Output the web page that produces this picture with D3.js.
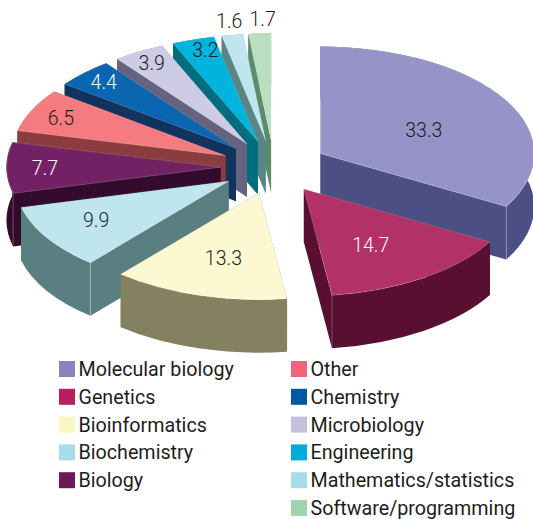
<!DOCTYPE html>
<html>
<head>
<meta charset="utf-8">
<script src="https://cdn.jsdelivr.net/npm/d3@7"></script>
<style>
	html, body { margin: 0; padding: 0; background: #fff; }
	svg { display: block; }
	text { font-family: Roboto, sans-serif; font-weight: 300; fill: #1d1d1b; }
</style>
</head>
<body>
<svg id="chart" width="533" height="519"></svg>
<script>
// share of respondents per field, %
const categories = ['Molecular biology', 'Genetics', 'Bioinformatics', 'Biochemistry', 'Biology', 'Other',
	'Chemistry', 'Microbiology', 'Engineering', 'Mathematics/statistics', 'Software/programming'];
const values = [33.3, 14.7, 13.3, 9.9, 7.7, 6.5, 4.4, 3.9, 3.2, 1.6, 1.7];

const topColors = ['#9593c7', '#b23166', '#fcf9d2', '#bfe6ef', '#732165', '#f57b81', '#0a66b0', '#cdcce4', '#00b4de', '#bfe6ef', '#b9dfbe'];
const wallColors = ['#4b4f84', '#590f30', '#838160', '#597f80', '#330b2d', '#8b3c3e', '#13335f', '#66637f', '#006e7e', '#5a8586', '#5c8a6c'];
const swatchColors = ['#8a83bf', '#bb1e5e', '#f8f6c4', '#a7dcea', '#6e1a56', '#f26479', '#0057a4', '#c6c0df', '#00acd9', '#a7dcea', '#a1d3ae'];
const labelColors = ['#1d1d1b', '#fff', '#1d1d1b', '#1d1d1b', '#fff', '#1d1d1b', '#fff', '#1d1d1b', '#1d1d1b', '#1d1d1b', '#1d1d1b'];

// how far out along the slice each value label sits (fraction of radius)
const labelRadiusX = [0.56, 0.56, 0.59, 0.73, 0.82, 0.85, 0.87, 0.88, 0.81, 1.09, 0.75];
const labelRadiusY = [0.43, 0.63, 0.64, 0.68, 0.83, 0.82, 0.88, 0.88, 0.9, 1.135, 1.14];

// pie geometry, the tilt is faked by squashing y
const cx = 274, cy = 167, rx = 214, squash = 0.5, depth = 53, explode = 0.25;
const ry = rx * squash;

const svg = d3.select('#chart');

const slices = d3.pie().sort(null).value(d => d)(values).map((d, i) => {
	let mid = (d.startAngle + d.endAngle) / 2;
	return {
		i: i,
		a0: d.startAngle,
		a1: d.endAngle,
		ax: cx + explode * rx * Math.sin(mid),
		ay: cy - explode * ry * Math.cos(mid),
		mid: mid
	};
});

const rim = (s, a) => [s.ax + rx * Math.sin(a), s.ay - ry * Math.cos(a)];
const arcTop = d3.arc().innerRadius(0).outerRadius(rx);

// sides of the slice: both cut faces and the curved outside
function wallPaths(s) {
	let p0 = rim(s, s.a0), p1 = rim(s, s.a1);
	return [
		`M${p0} A${rx},${ry} 0 0 1 ${p1} L${p1[0]},${p1[1] + depth} A${rx},${ry} 0 0 0 ${p0[0]},${p0[1] + depth} Z`,
		`M${s.ax},${s.ay} L${p0} L${p0[0]},${p0[1] + depth} L${s.ax},${s.ay + depth} Z`,
		`M${s.ax},${s.ay} L${p1} L${p1[0]},${p1[1] + depth} L${s.ax},${s.ay + depth} Z`
	];
}

// back slices first so the front ones cover them
const order = slices.slice().sort((a, b) => d3.ascending(a.ay, b.ay));

const sliceG = svg.append('g').selectAll('g')
	.data(order)
	.join('g');

sliceG.selectAll('path.wall')
	.data(d => wallPaths(d).map(p => ({path: p, i: d.i})))
	.join('path')
	.attr('class', 'wall')
	.attr('d', d => d.path)
	.attr('fill', d => wallColors[d.i]);

// light edge where two side faces meet
sliceG.each(function(d) {
	let corners = [];
	if (d.a0 > Math.PI && d.a0 < 1.5 * Math.PI) corners.push(d.a0);
	if (d.a1 > Math.PI / 2 && d.a1 < Math.PI) corners.push(d.a1);
	corners.forEach(a => {
		let p = rim(d, a);
		d3.select(this).append('line')
			.attr('x1', p[0]).attr('x2', p[0])
			.attr('y1', p[1]).attr('y2', p[1] + depth)
			.attr('stroke', '#fff')
			.attr('stroke-opacity', 0.35)
			.attr('stroke-width', 0.7);
	});
});

sliceG.append('path')
	.attr('class', 'top')
	.attr('transform', d => `translate(${d.ax},${d.ay}) scale(1,${squash})`)
	.attr('d', d => arcTop({startAngle: d.a0, endAngle: d.a1}))
	.attr('fill', d => topColors[d.i])
	.attr('stroke', '#fff')
	.attr('stroke-opacity', 0.3)
	.attr('stroke-width', 0.6)
	.attr('vector-effect', 'non-scaling-stroke');

// value labels on top of everything
svg.append('g').selectAll('text')
	.data(slices)
	.join('text')
	.attr('x', d => d.ax + labelRadiusX[d.i] * rx * Math.sin(d.mid))
	.attr('y', d => d.ay - labelRadiusY[d.i] * ry * Math.cos(d.mid))
	.attr('dy', '.36em')
	.attr('text-anchor', 'middle')
	.attr('font-size', 19.5)
	.style('fill', d => labelColors[d.i])
	.text(d => values[d.i].toFixed(1));

// legend, two columns
const legendRows = d3.scaleLinear().domain([0, 5]).range([361, 500]);
const legendCols = [59, 291];
const firstColCount = 5;

const legend = svg.append('g').selectAll('g')
	.data(categories)
	.join('g')
	.attr('transform', (d, i) => {
		let col = i < firstColCount ? 0 : 1;
		let row = col ? i - firstColCount : i;
		return `translate(${legendCols[col]},${legendRows(row)})`;
	});

legend.append('rect')
	.attr('width', 16)
	.attr('height', 16)
	.attr('fill', (d, i) => swatchColors[i]);

legend.append('text')
	.attr('x', 19.5)
	.attr('y', 8)
	.attr('dy', '.36em')
	.attr('font-size', 19.7)
	.style('font-weight', 400)
	.text(d => d);
</script>
</body>
</html>
